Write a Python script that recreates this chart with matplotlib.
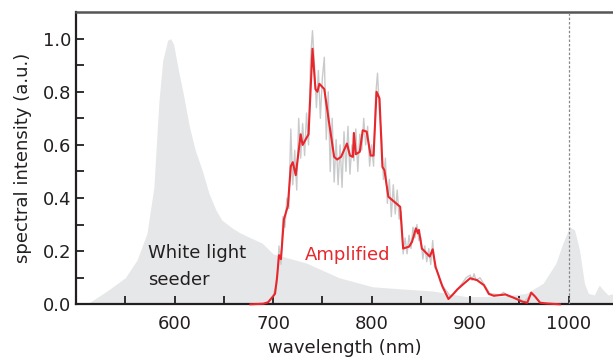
import matplotlib
matplotlib.use("Agg")
import matplotlib.pyplot as plt
import numpy as np

# White light seeder spectrum (gray fill)
seed_wl = [505, 513, 533, 550, 562, 572, 579, 584, 588, 593, 596, 599, 604, 609, 615, 621,
           628, 635, 642, 648, 659, 666, 675, 689, 700, 734, 767, 801, 830, 862, 896, 930,
           957, 974, 987, 994, 1001, 1006, 1011, 1016, 1020, 1026, 1031, 1035, 1040, 1045]
seed_val = [0.0, 0.005, 0.054, 0.10, 0.167, 0.267, 0.44, 0.757, 0.918, 0.994, 1.0, 0.98, 0.88,
            0.79, 0.67, 0.58, 0.505, 0.417, 0.355, 0.317, 0.286, 0.27, 0.254, 0.23, 0.19, 0.155,
            0.10, 0.066, 0.058, 0.05, 0.029, 0.029, 0.041, 0.079, 0.154, 0.229, 0.292, 0.28,
            0.204, 0.079, 0.041, 0.035, 0.072, 0.054, 0.035, 0.04]

# Amplified spectrum, smoothed (red)
amp_wl = [677, 690, 695, 700, 702, 704, 706, 708, 711, 715, 718, 720, 723, 728, 730, 736, 740,
          743, 745, 747, 752, 757, 762, 765, 769, 775, 778, 781, 782, 784, 788, 791, 795, 799,
          802, 805, 808, 811, 813, 817, 823, 829, 832, 838, 841, 845, 847, 848, 851, 859, 862,
          865, 872, 878, 882, 887, 894, 900, 907, 914, 919, 924, 936, 944, 953, 958, 962, 966,
          971, 978, 991]
amp_val = [0.0, 0.002, 0.008, 0.03, 0.04, 0.10, 0.185, 0.17, 0.32, 0.37, 0.52, 0.535, 0.486,
           0.64, 0.60, 0.64, 0.962, 0.81, 0.80, 0.83, 0.81, 0.68, 0.555, 0.545, 0.555, 0.605,
           0.56, 0.555, 0.645, 0.565, 0.574, 0.655, 0.65, 0.56, 0.56, 0.80, 0.775, 0.517, 0.505,
           0.405, 0.386, 0.367, 0.21, 0.217, 0.235, 0.286, 0.267, 0.28, 0.21, 0.18, 0.207, 0.14,
           0.066, 0.02, 0.035, 0.056, 0.079, 0.098, 0.091, 0.072, 0.039, 0.032, 0.037, 0.025,
           0.01, 0.006, 0.044, 0.029, 0.006, 0.003, 0.0]

# Amplified spectrum, raw (light gray, noisy)
raw_wl = list(range(700, 872, 2)) + [876, 880, 885, 890, 896, 900, 902, 904, 906, 910, 915,
                                      920, 930, 934, 938, 945, 950, 955, 960]
raw_val = [0.03, 0.06, 0.08, 0.22, 0.15, 0.33, 0.29, 0.40, 0.36, 0.66, 0.45, 0.58, 0.43, 0.70,
           0.55, 0.68, 0.56, 0.72, 0.60, 0.92, 1.03, 0.90, 0.74, 0.88, 0.70, 0.85, 0.93, 0.62,
           0.80, 0.50, 0.70, 0.46, 0.62, 0.45, 0.60, 0.44, 0.65, 0.50, 0.67, 0.49, 0.60, 0.54,
           0.66, 0.50, 0.64, 0.58, 0.70, 0.60, 0.67, 0.52, 0.60, 0.52, 0.78, 0.87, 0.72, 0.64,
           0.47, 0.55, 0.38, 0.47, 0.33, 0.45, 0.34, 0.43, 0.32, 0.35, 0.19, 0.25, 0.19, 0.26,
           0.21, 0.29, 0.25, 0.30, 0.24, 0.25, 0.17, 0.22, 0.16, 0.21, 0.15, 0.24, 0.14, 0.13,
           0.11, 0.08,
           0.05, 0.03, 0.045, 0.07, 0.10, 0.11, 0.09, 0.115, 0.09, 0.10, 0.07,
           0.04, 0.035, 0.045, 0.03, 0.025, 0.02, 0.01, 0.03]

x_major = [600, 700, 800, 900, 1000]
y_major = [0.0, 0.2, 0.4, 0.6, 0.8, 1.0]

plt.rcParams['font.family'] = ['DejaVu Sans']
fig = plt.figure(figsize=(6.13, 3.63), dpi=100)
ax = fig.add_axes([0.124, 0.1617, 0.876, 0.805])

ax.fill_between(seed_wl, 0, seed_val, color='#e6e7e8', linewidth=0, zorder=1)
ax.plot(raw_wl, raw_val, color='#c9cacb', linewidth=1.0, zorder=2)
ax.plot(amp_wl, amp_val, color='#e8262b', linewidth=1.5, zorder=4, clip_on=False)
ax.axvline(1000, color='#888888', linestyle=(0, (2, 1.5)), linewidth=0.9, zorder=3)

ax.set_xlim(500, 1045)
ax.set_ylim(0, 1.1)
ax.set_xticks(x_major)
ax.set_xticks([550, 650, 750, 850, 950], minor=True)
ax.set_yticks(y_major)
ax.set_yticks([0.1, 0.3, 0.5, 0.7, 0.9], minor=True)
ax.set_yticklabels([f"{v:.1f}" for v in y_major])
ax.tick_params(which='both', direction='in', length=6, width=1.3, labelsize=13, color='#231f20',
               labelcolor='#231f20')
ax.tick_params(axis='x', pad=8)

for s in ['left', 'bottom']:
    ax.spines[s].set_linewidth(1.6)
    ax.spines[s].set_color('#231f20')
ax.spines['top'].set_linewidth(1.8)
ax.spines['top'].set_color('#555555')
ax.spines['right'].set_visible(False)

ax.set_xlabel('wavelength (nm)', fontsize=13, color='#231f20', labelpad=4)
ax.set_ylabel('spectral intensity (a.u.)', fontsize=13, color='#231f20', labelpad=8)

ax.text(573, 0.193, 'White light', fontsize=13, color='#231f20', ha='left', va='center')
ax.text(573, 0.091, 'seeder', fontsize=13, color='#231f20', ha='left', va='center')
ax.text(732, 0.185, 'Amplified', fontsize=13, color='#e8262b', ha='left', va='center')

fig.savefig('out.png', dpi=100)
